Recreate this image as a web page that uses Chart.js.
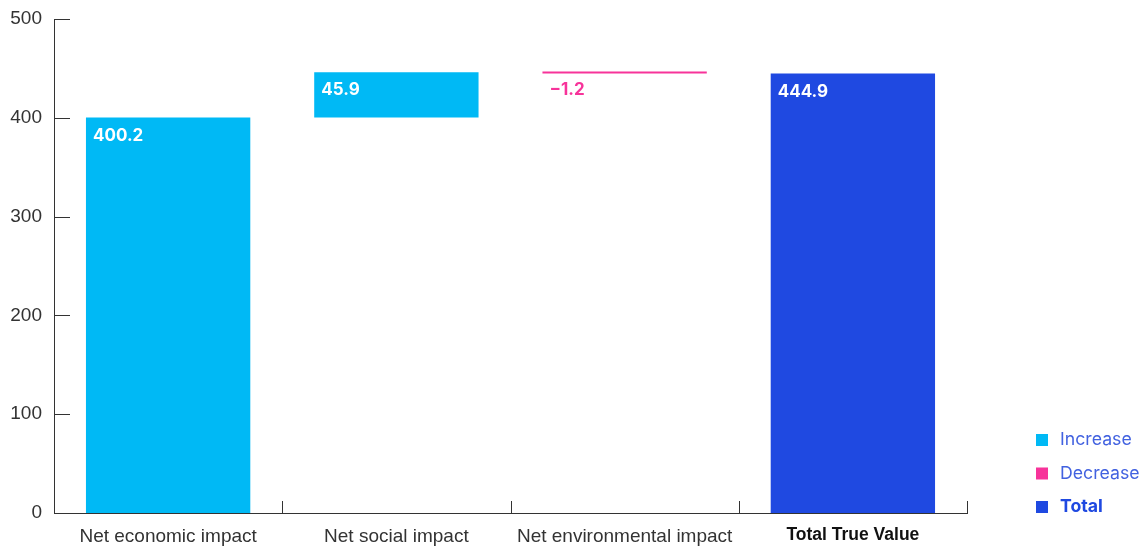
<!DOCTYPE html>
<html>
<head>
<meta charset="utf-8">
<script src="https://cdn.jsdelivr.net/npm/chart.js@4"></script>
<style>
  html, body { margin: 0; padding: 0; background: #fff; }
  #wrap { width: 1143px; height: 546px; }
</style>
</head>
<body>
<div id="wrap"><canvas id="chart"></canvas></div>
<script>
"use strict"

// data
const categories = ["Net economic impact", "Net social impact", "Net environmental impact", "Total True Value"]
const changes = [400.2, 45.9, -1.2]
const total = 444.9
const yTicks = [0, 100, 200, 300, 400, 500]
const legendNames = ["Increase", "Decrease", "Total"]

const colIncrease = "#00b9f5"
const colDecrease = "#f7339a"
const colTotal = "#1f49e1"

// build floating bars from running total
let running = 0
const floats = []
const barColors = []
const labelTexts = []
for (const c of changes) {
    floats.push([running, running + c])
    running += c
    barColors.push(c >= 0 ? colIncrease : colDecrease)
    labelTexts.push(c >= 0 ? c.toFixed(1) : "\u2212" + Math.abs(c).toFixed(1))
}
floats.push([0, total])
barColors.push(colTotal)
labelTexts.push(total.toFixed(1))

// value labels at the top-left of each bar
const barLabels = {
    id: "barLabels",
    afterDatasetsDraw(chart) {
        const ctx = chart.ctx
        const meta = chart.getDatasetMeta(0)
        ctx.save()
        ctx.font = "bold 17px 'Inter', 'Liberation Sans', sans-serif"
        ctx.textBaseline = "middle"
        ctx.textAlign = "left"
        meta.data.forEach((bar, i) => {
            const p = bar.getProps(["x", "y", "base", "width"], true)
            const top = Math.min(p.y, p.base)
            ctx.fillStyle = barColors[i] === colDecrease ? colDecrease : "#ffffff"
            ctx.fillText(labelTexts[i], p.x - p.width / 2 + 7, top + 18)
        })
        ctx.restore()
    }
}

// small inner ticks on both axes
const innerTicks = {
    id: "innerTicks",
    afterDraw(chart) {
        const ctx = chart.ctx
        const area = chart.chartArea
        const y = chart.scales.y
        const x = chart.scales.x
        ctx.save()
        ctx.strokeStyle = "#333"
        ctx.lineWidth = 1
        ctx.beginPath()
        for (const v of yTicks) {
            const py = Math.round(y.getPixelForValue(v)) + 0.5
            ctx.moveTo(area.left, py)
            ctx.lineTo(area.left + 16, py)
        }
        for (let i = 1; i <= categories.length; i++) {
            const px = Math.round(x.getPixelForValue(i - 0.5)) + 0.5
            ctx.moveTo(px, area.bottom)
            ctx.lineTo(px, area.bottom - 12)
        }
        ctx.stroke()
        ctx.restore()
    }
}

// legend at bottom right
const sideLegend = {
    id: "sideLegend",
    afterDraw(chart) {
        const ctx = chart.ctx
        const area = chart.chartArea
        const cols = [colIncrease, colDecrease, colTotal]
        const textCols = ["#4262e0", "#4262e0", colTotal]
        ctx.save()
        ctx.textBaseline = "middle"
        ctx.textAlign = "left"
        legendNames.forEach((name, i) => {
            const cy = area.bottom - 6 - (legendNames.length - 1 - i) * 33.5
            ctx.fillStyle = cols[i]
            ctx.fillRect(area.right + 69, cy - 6, 12, 12)
            ctx.fillStyle = textCols[i]
            ctx.font = (i === 2 ? "bold " : "") + "17.7px 'Inter', 'Liberation Sans', sans-serif"
            ctx.fillText(name, area.right + 93, cy)
        })
        ctx.restore()
    }
}

const ctx = document.getElementById("chart").getContext("2d")
const myChart = new Chart(ctx, {
    type: "bar",
    data: {
        labels: categories,
        datasets: [{
            data: floats,
            backgroundColor: barColors,
            borderWidth: 0,
            minBarLength: 2,
            barPercentage: 0.72,
            categoryPercentage: 1
        }]
    },
    options: {
        responsive: true,
        maintainAspectRatio: false,
        animation: false,
        layout: { padding: { top: 19, right: 176, left: 0, bottom: 0 } },
        plugins: {
            legend: { display: false },
            tooltip: { enabled: false }
        },
        scales: {
            x: {
                grid: { display: false, drawTicks: false },
                border: { display: true, color: "#333", width: 1 },
                ticks: {
                    padding: 12,
                    color: (c) => c.index === 3 ? "#111" : "#333",
                    font: (c) => ({
                        family: "'Liberation Sans', Arial, sans-serif",
                        size: c.index === 3 ? 17.5 : 19,
                        weight: c.index === 3 ? "bold" : "normal"
                    })
                },
                afterFit: (scale) => { scale.height = 33 }
            },
            y: {
                min: 0,
                max: 500,
                afterBuildTicks: (scale) => { scale.ticks = yTicks.map(v => ({ value: v })) },
                grid: { display: false, drawTicks: false },
                border: { display: true, color: "#333", width: 1 },
                ticks: {
                    padding: 12,
                    color: "#333",
                    font: { family: "'Liberation Sans', Arial, sans-serif", size: 19 }
                },
                afterFit: (scale) => {
                    scale.width = 54
                    scale.paddingTop = 0
                    scale.paddingBottom = 0
                }
            }
        }
    },
    plugins: [barLabels, innerTicks, sideLegend]
})
</script>
</body>
</html>
